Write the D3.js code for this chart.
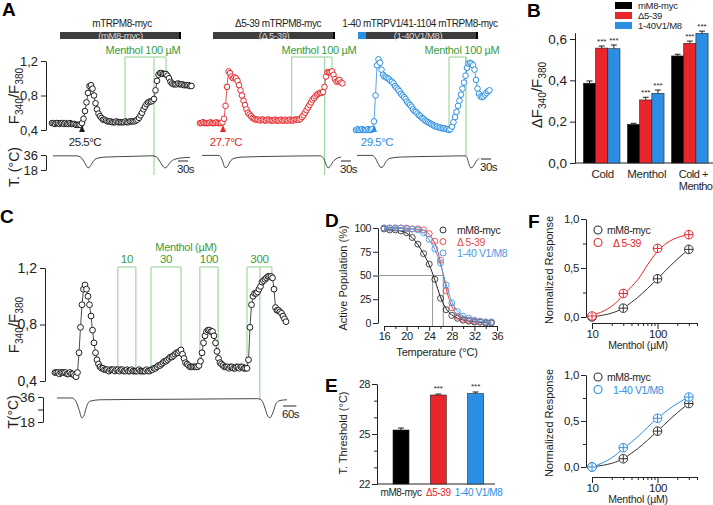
<!DOCTYPE html>
<html><head><meta charset="utf-8">
<script src="https://cdn.jsdelivr.net/npm/d3@7"></script>
<style>
html,body{margin:0;padding:0;background:#fff;}
svg{display:block;}
</style></head>
<body><svg id="c" width="713" height="505"></svg>
<script>
// ================= DATA =================
// Panel A: F340/F380 traces (one sample every 4.5 s)
const traceA1 = [0.48,0.48,0.47,0.48,0.48,0.47,0.48,0.48,0.47,0.48,0.47,0.47,0.48,0.47,0.47,0.47,0.46,0.46,0.46,
  0.46,0.48,0.53,0.62,0.72,0.83,0.91,0.92,0.88,0.80,0.71,0.64,0.59,0.56,0.54,0.52,0.52,0.51,0.50,
  0.50,0.50,0.49,0.49,0.49,0.50,0.49,0.49,0.49,0.49,0.49,0.50,0.49,0.49,0.50,0.50,0.50,0.50,
  0.51,0.52,0.54,0.57,0.60,0.64,0.67,0.70,0.72,0.73,0.73,0.74,0.76,0.86,0.97,1.04,1.06,1.06,1.05,1.05,1.05,1.03,1.00,0.96,0.94,0.93,0.93,0.93,0.94,0.93,0.93,0.93,0.92,0.92,0.92,0.92,0.91,0.91];
const traceA2 = [0.48,0.48,0.49,0.48,0.48,0.48,0.48,0.49,0.48,0.48,0.48,0.49,0.48,0.48,0.48,0.49,
  0.53,0.68,0.90,1.08,1.06,1.02,1.00,1.01,1.00,0.97,0.92,0.86,0.80,0.74,0.69,0.64,0.60,0.58,0.56,0.54,0.53,0.52,
  0.52,0.52,0.51,0.52,0.52,0.51,0.51,0.52,0.52,0.51,0.51,0.51,0.52,0.51,0.51,0.51,0.52,0.51,0.51,0.52,0.51,0.51,0.52,0.51,0.51,0.52,0.52,0.52,
  0.52,0.53,0.55,0.57,0.60,0.63,0.66,0.69,0.72,0.75,0.77,0.79,0.81,0.82,0.83,0.83,0.84,0.90,1.02,1.07,1.07,1.07,1.08,1.04,0.99,0.96,0.97,0.98,0.95,0.94];
const traceA3 = [0.40,0.41,0.40,0.40,0.41,0.40,0.40,0.40,0.41,0.40,0.40,0.41,
  0.50,0.80,1.15,1.22,1.18,1.10,1.04,1.02,1.01,1.00,0.99,0.97,0.96,0.94,0.91,0.89,0.87,0.85,0.82,0.80,0.78,0.76,0.73,0.71,0.69,0.67,0.64,0.62,0.61,0.59,0.57,0.56,0.54,0.53,0.51,0.50,0.49,0.48,0.47,0.46,0.45,0.44,0.44,0.43,0.43,0.42,0.42,0.42,0.41,0.41,0.40,0.41,
  0.44,0.49,0.55,0.61,0.68,0.74,0.81,0.88,0.95,1.03,1.12,1.17,1.18,1.17,1.15,1.10,0.98,0.88,0.82,0.79,0.78,0.79,0.81,0.83,0.85,0.86];
// Panel A: bath temperature [time s, °C]
const tempA1 = [[3,35],[72,35],[84,34],[93,30],[102,24],[108,20.5],[114,22],[123,28],[135,32],[159,33.5],[234,34.3],[300,35],[312,34],[321,30],[330,24],[339,20.5],[345,22],[354,27],[369,31],[390,32.5],[414,33.2]];
const tempA2 = [[6,35.5],[57,35.5],[63,33],[69,27],[75,21],[81,21.5],[90,28],[102,32],[126,33.5],[240,34.5],[360,35],[369,33],[378,25],[384,20.5],[390,22],[399,28],[411,32],[423,33.5]];
const tempA3 = [[3,35.5],[48,35.5],[57,33],[66,26],[75,21],[81,22],[90,28],[102,32],[132,33.5],[252,34.5],[327,35],[333,33],[339,25],[345,20.5],[351,22],[360,28],[369,32]];
const aTitles = ["mTRPM8-myc","\u03945-39 mTRPM8-myc","1-40 mTRPV1/41-1104 mTRPM8-myc"];
const aBarTexts = ["(mM8-myc)","(\u0394 5-39)","(1-40V1/M8)"];
const aThresholdTimes = [90, 69, 54];
const aThresholdLabels = ["25.5\u00B0C","27.7\u00B0C","29.5\u00B0C"];
const aMentholOn = [219, 275, 279];
const aMentholOff = [342, 396, 330];
const aMentholMark = [306, 374, 330];
const aYTicks = [0.4, 0.8, 1.2];
const aTTicks = [18, 36];

// Panel B
const bCategories = ["Cold","Menthol","Cold +|Menthol"];
const bSeries = ["mM8-myc","\u03945-39","1-40V1/M8"];
const bM8 = [0.386, 0.187, 0.518];
const bD539 = [0.556, 0.305, 0.579];
const bV1M8 = [0.553, 0.337, 0.627];
const bM8Err = [0.011, 0.005, 0.008];
const bD539Err = [0.010, 0.013, 0.011];
const bV1M8Err = [0.018, 0.016, 0.011];
const bYTicks = [0, 0.2, 0.4, 0.6];

// Panel C: F340/F380 trace (one sample every 6.75 s)
const traceC = [0.46,0.46,0.46,0.45,0.46,0.46,0.46,0.46,0.45,0.45,0.46,0.45,0.45,0.44,
  0.43,0.46,0.60,0.78,0.94,1.05,1.08,1.05,1.00,0.94,0.86,0.76,0.67,0.60,0.55,0.52,0.50,0.49,0.49,
  0.48,0.48,0.48,0.47,0.48,0.48,0.48,0.47,0.48,0.48,0.47,0.48,0.48,0.47,0.47,0.48,0.47,0.47,0.48,0.47,0.47,0.47,0.47,0.48,0.47,0.47,0.47,0.47,0.48,0.47,0.47,
  0.48,0.48,0.49,0.49,0.50,0.51,0.51,0.52,0.53,0.54,0.54,0.55,0.56,0.57,0.57,0.58,0.59,0.60,0.60,0.61,0.62,0.59,0.56,0.53,0.52,0.51,0.50,0.50,0.50,0.50,0.50,0.50,0.51,0.54,0.60,0.67,0.72,0.75,0.76,0.76,0.75,0.75,0.72,0.67,0.61,0.56,0.53,0.52,0.51,0.50,
  0.50,0.50,0.49,0.50,0.50,0.49,0.49,0.50,0.50,0.49,0.50,0.50,0.49,0.49,0.49,
  0.55,0.78,0.94,1.00,1.02,1.02,1.03,1.05,1.07,1.10,1.11,1.12,1.13,1.14,1.14,1.14,1.13,1.05,0.92,0.90,0.90,0.89,0.88,0.86,0.84,0.82];
const tempC = [[9,35.3],[76,35.3],[94,33],[108,27],[121,21],[130,22.5],[144,30],[158,33],[202,34],[427,34.3],[652,34.5],[913,34.8],[931,33.5],[945,28],[958,22],[967,21],[981,25],[994,31],[1012,33.5],[1044,34]];
const cMentholOn = [283, 432, 652, 864];
const cMentholOff = [364, 567, 734, 976];
const cMentholLabels = ["10","30","100","300"];
const cMentholMark = 922;

// Panel D
const dTemps = [16,17,18,19,20,21,22,23,24,25,26,27,28,29,30,31,32,33,34,35];
const dM8   = [99,98,98,97,95,90,83,73,62,46,26,14,8,5,3,2,1,1,0,0];
const dD539 = [100,100,100,100,100,99,99,98,94,86,66,34,16,7,4,3,2,1,1,1];
const dV1M8 = [100,100,100,100,99,99,98,95,88,78,63,40,21,12,7,5,3,2,1,1];
const dHalfTemps = [24.6, 26.5];
const dSeries = ["mM8-myc","\u0394 5-39","1-40 V1/M8"];

// Panel E
const eLabels = ["mM8-myc","\u03945-39","1-40 V1/M8"];
const eValues = [25.24, 27.34, 27.42];
const eErr = [0.12, 0.06, 0.10];

// Panel F
const fConc = [10, 30, 100, 300];
const fM8 = [0.00, 0.09, 0.39, 0.69];
const fD539 = [0.01, 0.24, 0.70, 0.84];
const fV1M8 = [0.00, 0.21, 0.53, 0.76];
const fErr = [0.04, 0.04, 0.045, 0.045];
const fFitConc = [10,15,20,30,40,50,70,100,150,200,300];
const fFitM8   = [0.00,0.02,0.04,0.09,0.15,0.20,0.29,0.39,0.51,0.59,0.69];
const fFitD539 = [0.02,0.06,0.11,0.22,0.31,0.38,0.53,0.67,0.77,0.81,0.84];
const fFitV1M8 = [0.00,0.05,0.10,0.20,0.27,0.33,0.43,0.53,0.63,0.69,0.76];

// ================= STYLE =================
const FONT = "'Liberation Sans', Arial, Helvetica, sans-serif";
const RED = "#e8262b", BLUE = "#2a8fe4", BLK = "#1e1e1e";
const GREEN_T = "#3c9c3c", GREEN_L = "#8fcf8f";

const svg = d3.select("#c").attr("font-family", FONT);
svg.append("rect").attr("width",713).attr("height",505).attr("fill","#fff");

function txt(x, y, s, o = {}) {
  const t = svg.append("text").attr("x", x).attr("y", y).text(s)
    .attr("font-size", o.size || 12).attr("fill", o.fill || BLK)
    .attr("text-anchor", o.anchor || "start");
  if (o.bold) t.attr("font-weight", "bold");
  if (o.ls) t.attr("letter-spacing", o.ls);
  return t;
}
function rotLabel(x, y, s, size) {
  return svg.append("text").attr("transform", `translate(${x},${y}) rotate(-90)`)
    .attr("text-anchor","middle").attr("font-size", size).attr("fill", BLK).text(s);
}
function ratioLabel(x, y, size, prefix) {
  const t = svg.append("text").attr("transform", `translate(${x},${y}) rotate(-90)`)
    .attr("text-anchor","middle").attr("font-size", size).attr("fill", BLK);
  t.append("tspan").text(prefix + "F");
  t.append("tspan").attr("font-size", size*0.68).attr("dy", size*0.28).text("340");
  t.append("tspan").attr("dy", -size*0.28).text("/F");
  t.append("tspan").attr("font-size", size*0.68).attr("dy", size*0.28).text("380");
}
function styleAxis(g, size, ls) {
  g.attr("font-family", FONT).attr("font-size", size);
  g.selectAll("path.domain").attr("stroke", "#222");
  g.selectAll(".tick line").attr("stroke", "#222");
  g.selectAll(".tick text").attr("fill", "#222");
  if (ls) g.selectAll(".tick text").attr("letter-spacing", ls);
}
const comma = f => (d => d3.format(f)(d).replace(".", ","));

// panel letters
[["A",2,16],["B",527,17],["C",0,223],["D",325,227],["E",325,392],["F",528,228]]
  .forEach(([l,x,y]) => txt(x, y, l, {size:19, bold:true, fill:"#000"}));

// ================= PANEL A =================
const aY = d3.scaleLinear().domain([0.4, 1.2]).range([130, 61]);
const aTY = d3.scaleLinear().domain([18, 36]).range([170, 155]);
const aCfg = [
  {data: traceA1, temp: tempA1, color: BLK, x0: 52, bar: [60,181], title: 122, mtext: 143, sb: 178, longEnd: 175},
  {data: traceA2, temp: tempA2, color: RED, x0: 200, bar: [213,335], title: 278, mtext: 319, sb: 341, longEnd: 175},
  {data: traceA3, temp: tempA3, color: BLUE, x0: 356, bar: [358,478], title: 420, mtext: 462, sb: 481, longEnd: 157}
];
const DT_A = 4.5;
aCfg.forEach((c, k) => {
  const n = c.data.length;
  const x = d3.scaleLinear().domain([0, (n-1)*DT_A]).range([c.x0, c.x0 + (n-1)*1.5]);
  const valAt = t => c.data[Math.max(0, Math.min(n-1, Math.round(t / DT_A)))];
  // title & bar
  txt(c.title, 27, aTitles[k], {size:10, anchor:"middle", ls:-0.45});
  svg.append("rect").attr("x", c.bar[0]).attr("y", 32).attr("width", c.bar[1]-c.bar[0]).attr("height", 7).attr("fill", "#3d3d3d");
  svg.append("rect").attr("x", c.bar[1]-2).attr("y", 32).attr("width", 2).attr("height", 7).attr("fill", "#000");
  if (k === 2) svg.append("rect").attr("x", c.bar[0]).attr("y", 32).attr("width", 8).attr("height", 7).attr("fill", BLUE);
  txt((c.bar[0]+c.bar[1])/2, 38.5, aBarTexts[k], {size:9.5, anchor:"middle", fill:"#d8d8d8", ls:-0.4});
  // menthol annotation
  const on = aMentholOn[k], off = aMentholOff[k], mk = aMentholMark[k];
  txt(c.mtext, 54, "Menthol 100 \u00B5M", {size:11, anchor:"middle", fill:GREEN_T, ls:-0.3});
  svg.append("path").attr("d", `M${x(on)},${aY(valAt(on))}V57H${x(off)}V${aY(valAt(off))}`)
    .attr("fill","none").attr("stroke",GREEN_L).attr("stroke-width",1);
  svg.append("path").attr("d", `M${x(mk)},57V${c.longEnd}`).attr("stroke",GREEN_L).attr("stroke-width",1);
  // temperature trace
  svg.append("path").datum(c.temp)
    .attr("d", d3.line().x(d => x(d[0])).y(d => aTY(d[1])).curve(d3.curveMonotoneX))
    .attr("fill","none").attr("stroke","#333").attr("stroke-width",0.9);
  // ratio trace
  svg.append("path").datum(c.data)
    .attr("d", d3.line().x((d,i) => x(i*DT_A)).y(d => aY(d)))
    .attr("fill","none").attr("stroke",c.color).attr("stroke-width",0.8);
  svg.append("g").selectAll("circle").data(c.data).join("circle")
    .attr("cx", (d,i) => x(i*DT_A)).attr("cy", d => aY(d)).attr("r", 2.8)
    .attr("fill","#fff").attr("stroke",c.color).attr("stroke-width",1);
  // threshold marker
  const tx = x(aThresholdTimes[k]);
  svg.append("path").attr("d", `M${tx},125L${tx+3},132L${tx-3},132Z`).attr("fill", c.color);
  txt(tx + 3, 146, aThresholdLabels[k], {size:11.5, anchor:"middle", fill:c.color, ls:-0.5});
  // scale bar 30 s
  const sbw = x(30) - x(0);
  const sby = k === 2 ? 159 : 161;
  svg.append("line").attr("x1", c.sb).attr("x2", c.sb + sbw).attr("y1", sby).attr("y2", sby).attr("stroke","#222");
  txt(c.sb - 1, sby + 12, "30s", {size:11.5, ls:-0.5});
});
// A axes
{
  const g = svg.append("g").attr("transform","translate(46,0)")
    .call(d3.axisLeft(aY).tickValues(aYTicks).tickSize(5).tickSizeOuter(0).tickPadding(3).tickFormat(comma(".1f")));
  styleAxis(g, 13);
  const g2 = svg.append("g").attr("transform","translate(46,0)")
    .call(d3.axisLeft(aTY).tickValues(aTTicks).tickSize(5).tickSizeOuter(0).tickPadding(3));
  styleAxis(g2, 13);
  ratioLabel(19, 96, 15, "");
  rotLabel(19, 167, "T. (\u00B0C)", 14);
}

// ================= PANEL B =================
{
  const y = d3.scaleLinear().domain([0, 0.63]).range([163, 32.8]);
  const xg = d3.scaleBand().domain(bCategories).range([579, 712.5]).paddingInner(0.17).paddingOuter(0.1);
  const xs = d3.scaleBand().domain(bSeries).range([0, xg.bandwidth()]);
  const vals = [bM8, bD539, bV1M8], errs = [bM8Err, bD539Err, bV1M8Err], cols = ["#000", RED, BLUE];
  const ga = svg.append("g").attr("transform","translate(575,0)")
    .call(d3.axisLeft(y).tickValues(bYTicks).tickSize(5).tickSizeOuter(0).tickPadding(3).tickFormat(comma(".1f")));
  styleAxis(ga, 13.5);
  svg.append("line").attr("x1",575).attr("x2",713).attr("y1",163).attr("y2",163).attr("stroke","#222");
  bCategories.forEach((cat, ci) => {
    bSeries.forEach((s, si) => {
      const v = vals[si][ci], e = errs[si][ci];
      const bx = xg(cat) + xs(s), bw = xs.bandwidth();
      svg.append("rect").attr("x", bx).attr("y", y(v)).attr("width", bw).attr("height", y(0) - y(v))
        .attr("fill", cols[si]).attr("stroke", "#222").attr("stroke-width", 0.6);
      const cx = bx + bw/2;
      svg.append("line").attr("x1",cx).attr("x2",cx).attr("y1",y(v)).attr("y2",y(v+e)).attr("stroke","#222");
      svg.append("line").attr("x1",cx-3).attr("x2",cx+3).attr("y1",y(v+e)).attr("y2",y(v+e)).attr("stroke","#222");
      if (si > 0) txt(cx, y(v+e) - 2, "***", {size:8, anchor:"middle"});
    });
    const lines = cat.split("|");
    if (lines.length === 1) txt(xg(cat) + xg.bandwidth()/2 + 1, 178, cat, {size:11.5, anchor:"middle", ls:-0.3});
    else lines.forEach((l, li) => txt(xg(cat) + xg.bandwidth()/2 - 11, 178 + li*12, l, {size:11, ls:-0.5}));
  });
  ratioLabel(542, 95, 15, "\u0394");
  bSeries.forEach((s, si) => {
    svg.append("rect").attr("x",615).attr("y",2 + si*10).attr("width",17).attr("height",7).attr("fill",cols[si]);
    txt(638, 9 + si*10, s, {size:9.5, ls:-0.3});
  });
}

// ================= PANEL C =================
{
  const DT = 6.75, n = traceC.length;
  const x = d3.scaleLinear().domain([0, (n-1)*DT]).range([55, 55 + (n-1)*1.5]);
  const y = d3.scaleLinear().domain([0.4, 1.2]).range([381, 268]);
  const ty = d3.scaleLinear().domain([18, 36]).range([422, 397]);
  const valAt = t => traceC[Math.max(0, Math.min(n-1, Math.round(t / DT)))];
  txt(186, 251, "Menthol (\u00B5M)", {size:11, anchor:"middle", fill:GREEN_T, ls:-0.3});
  cMentholOn.forEach((on, i) => {
    const off = cMentholOff[i];
    svg.append("path").attr("d", `M${x(on)},${y(valAt(on))}V267H${x(off)}V${y(valAt(off))}`)
      .attr("fill","none").attr("stroke",GREEN_L).attr("stroke-width",1);
    txt((x(on)+x(off))/2, 263, cMentholLabels[i], {size:11.5, anchor:"middle", fill:GREEN_T, ls:-0.3});
  });
  svg.append("path").attr("d", `M${x(cMentholMark)},267V400`).attr("stroke",GREEN_L).attr("stroke-width",1);
  svg.append("path").datum(tempC)
    .attr("d", d3.line().x(d => x(d[0])).y(d => ty(d[1])).curve(d3.curveMonotoneX))
    .attr("fill","none").attr("stroke","#333").attr("stroke-width",0.9);
  svg.append("path").datum(traceC)
    .attr("d", d3.line().x((d,i) => x(i*DT)).y(d => y(d)))
    .attr("fill","none").attr("stroke",BLK).attr("stroke-width",0.8);
  svg.append("g").selectAll("circle").data(traceC).join("circle")
    .attr("cx", (d,i) => x(i*DT)).attr("cy", d => y(d)).attr("r", 2.9)
    .attr("fill","#fff").attr("stroke",BLK).attr("stroke-width",1);
  const g = svg.append("g").attr("transform","translate(45,0)")
    .call(d3.axisLeft(y).tickValues([0.4,0.8,1.2]).tickSize(5).tickSizeOuter(0).tickPadding(3).tickFormat(comma(".1f")));
  styleAxis(g, 14);
  const g2 = svg.append("g").attr("transform","translate(43,0)")
    .call(d3.axisLeft(ty).tickValues([18,27,36]).tickSize(5).tickSizeOuter(0).tickPadding(3).tickFormat(d => d === 27 ? "" : d));
  styleAxis(g2, 13.5);
  ratioLabel(19, 325, 15, "");
  rotLabel(18, 412, "T(\u00B0C)", 14);
  const sbw = x(60) - x(0);
  svg.append("line").attr("x1",283).attr("x2",283+sbw).attr("y1",406).attr("y2",406).attr("stroke","#222");
  txt(282, 418, "60s", {size:11.5, ls:-0.5});
}

// ================= PANEL D =================
{
  const x = d3.scaleLinear().domain([16, 36]).range([384, 497]);
  const y = d3.scaleLinear().domain([0, 100]).range([323, 228]);
  const series = [dM8, dD539, dV1M8], cols = ["#333", "#e64a4a", "#4a9be3"];
  const gy = svg.append("g").attr("transform","translate(378,0)")
    .call(d3.axisLeft(y).tickValues([0,25,50,75,100]).tickSize(5).tickSizeOuter(0).tickPadding(2));
  styleAxis(gy, 10.5, -0.3);
  const gx = svg.append("g").attr("transform","translate(0,326)")
    .call(d3.axisBottom(x).tickValues(d3.range(16, 37, 2)).tickSize(4).tickSizeOuter(0).tickPadding(2)
      .tickFormat(d => d % 4 === 0 ? d : ""));
  styleAxis(gx, 11, -0.3);
  gx.selectAll(".tick line").attr("y2", d => d % 4 === 0 ? 5 : 3);
  // 50% guide lines
  svg.append("path").attr("d", `M378,${y(50)}H${x(dHalfTemps[1])}`).attr("stroke","#999").attr("fill","none");
  dHalfTemps.forEach(t => svg.append("path").attr("d", `M${x(t)},${y(50)}V326`).attr("stroke","#999"));
  series.forEach((s, si) => {
    const pts = dTemps.map((t, i) => [t, s[i]]);
    svg.append("path").datum(pts).attr("d", d3.line().x(d => x(d[0])).y(d => y(d[1])).curve(d3.curveBasis))
      .attr("fill","none").attr("stroke", si === 0 ? "#222" : cols[si]).attr("stroke-width",1);
    svg.append("g").selectAll("circle").data(pts).join("circle")
      .attr("cx", d => x(d[0])).attr("cy", d => y(d[1])).attr("r", 3)
      .attr("fill","none").attr("stroke", cols[si]).attr("stroke-width", 0.9);
    svg.append("circle").attr("cx",443).attr("cy",230 + si*11.5).attr("r",3).attr("fill","none").attr("stroke",cols[si]);
    txt(457, 234 + si*11.5, dSeries[si], {size:10.5, fill: si === 0 ? BLK : cols[si], ls:-0.4});
  });
  txt(437, 356, "Temperature (\u00B0C)", {size:11, anchor:"middle", ls:-0.2});
  rotLabel(347, 278, "Active Population (%)", 11);
}

// ================= PANEL E =================
{
  const y = d3.scaleLinear().domain([22, 28]).range([484, 384]);
  const xb = d3.scaleBand().domain(eLabels).range([382, 494.6]).paddingInner(0.571).paddingOuter(0.295);
  const cols = ["#000", RED, BLUE];
  const gy = svg.append("g").attr("transform","translate(377,0)")
    .call(d3.axisLeft(y).tickValues([22,23,24,25,26,27,28]).tickSize(5).tickSizeOuter(0).tickPadding(2)
      .tickFormat(d => (d - 22) % 3 === 0 ? d : ""));
  styleAxis(gy, 10.5, -0.3);
  gy.selectAll(".tick line").attr("x2", d => (d - 22) % 3 === 0 ? -5 : -3);
  svg.append("line").attr("x1",377).attr("x2",495).attr("y1",484).attr("y2",484).attr("stroke","#222");
  eLabels.forEach((l, i) => {
    const bx = xb(l), bw = xb.bandwidth(), cx = bx + bw/2, v = eValues[i], e = eErr[i];
    svg.append("rect").attr("x",bx).attr("y",y(v)).attr("width",bw).attr("height",y(22)-y(v))
      .attr("fill",cols[i]).attr("stroke","#222").attr("stroke-width",0.6);
    svg.append("line").attr("x1",cx).attr("x2",cx).attr("y1",y(v)).attr("y2",y(v+e)).attr("stroke","#222");
    svg.append("line").attr("x1",cx-3).attr("x2",cx+3).attr("y1",y(v+e)).attr("y2",y(v+e)).attr("stroke","#222");
    if (i > 0) txt(cx, y(v+e) - 3, "***", {size:8, anchor:"middle"});
    txt(cx + (i === 2 ? 3 : 0), 496, l, {size:10, anchor:"middle", fill: i === 0 ? BLK : cols[i], ls:-0.4});
  });
  rotLabel(347, 433, "T. Threshold (\u00B0C)", 11);
}

// ================= PANEL F =================
function drawF(yTop, yZero, axisY, other, otherFit, col, otherName, legY) {
  const x = d3.scaleLog().domain([10, 400]).range([592, 697]);
  const y = d3.scaleLinear().domain([0, 1]).range([yZero, yTop]);
  const gy = svg.append("g").attr("transform","translate(586,0)")
    .call(d3.axisLeft(y).tickValues([0,0.25,0.5,0.75,1]).tickSize(5).tickSizeOuter(0).tickPadding(2)
      .tickFormat(d => (d * 2) % 1 === 0 ? comma(".1f")(d) : ""));
  styleAxis(gy, 11.5, -0.3);
  gy.selectAll(".tick line").attr("x2", d => (d * 2) % 1 === 0 ? -5 : -3);
  const minor = [10,20,30,40,50,60,70,80,90,100,200,300,400];
  const gx = svg.append("g").attr("transform",`translate(0,${axisY})`)
    .call(d3.axisBottom(x).tickValues(minor).tickSize(4).tickSizeOuter(0).tickPadding(3)
      .tickFormat(d => (d === 10 || d === 100) ? d : ""));
  styleAxis(gx, 11.5, -0.3);
  gx.selectAll(".tick line").attr("y2", d => (d === 10 || d === 100) ? 6 : 3);
  txt(638, axisY + 26, "Menthol (\u00B5M)", {size:10.5, anchor:"middle", ls:-0.2});
  rotLabel(553, (yTop + yZero)/2 + 2, "Normalized Response", 11);
  const sets = [[fM8, fFitM8, "#333"], [other, otherFit, col]];
  sets.forEach(([vals, fit, c]) => {
    svg.append("path").datum(fFitConc.map((k, i) => [k, fit[i]]))
      .attr("d", d3.line().x(d => x(d[0])).y(d => y(d[1])).curve(d3.curveMonotoneX))
      .attr("fill","none").attr("stroke",c).attr("stroke-width",1);
    fConc.forEach((k, i) => {
      const cx = x(k), cy = y(vals[i]);
      svg.append("circle").attr("cx",cx).attr("cy",cy).attr("r",4.3).attr("fill","#fff").attr("stroke",c).attr("stroke-width",1);
      svg.append("line").attr("x1",cx).attr("x2",cx).attr("y1",y(vals[i]-fErr[i])).attr("y2",y(vals[i]+fErr[i])).attr("stroke",c);
      svg.append("line").attr("x1",cx-4.3).attr("x2",cx+4.3).attr("y1",cy).attr("y2",cy).attr("stroke",c);
    });
  });
  svg.append("circle").attr("cx",598).attr("cy",legY).attr("r",4).attr("fill","none").attr("stroke","#333").attr("stroke-width",1.1);
  txt(607, legY + 4, "mM8-myc", {size:10.5, ls:-0.4});
  svg.append("circle").attr("cx",598).attr("cy",legY + 12.5).attr("r",4).attr("fill","none").attr("stroke",col).attr("stroke-width",1.1);
  txt(613, legY + 16.5, otherName, {size:10.5, fill:col, ls:-0.4});
}
drawF(219, 317, 323, fD539, fFitD539, RED, "\u0394 5-39", 230);
drawF(375, 467, 477, fV1M8, fFitV1M8, BLUE, "1-40 V1/M8", 377);
</script>
</body></html>
